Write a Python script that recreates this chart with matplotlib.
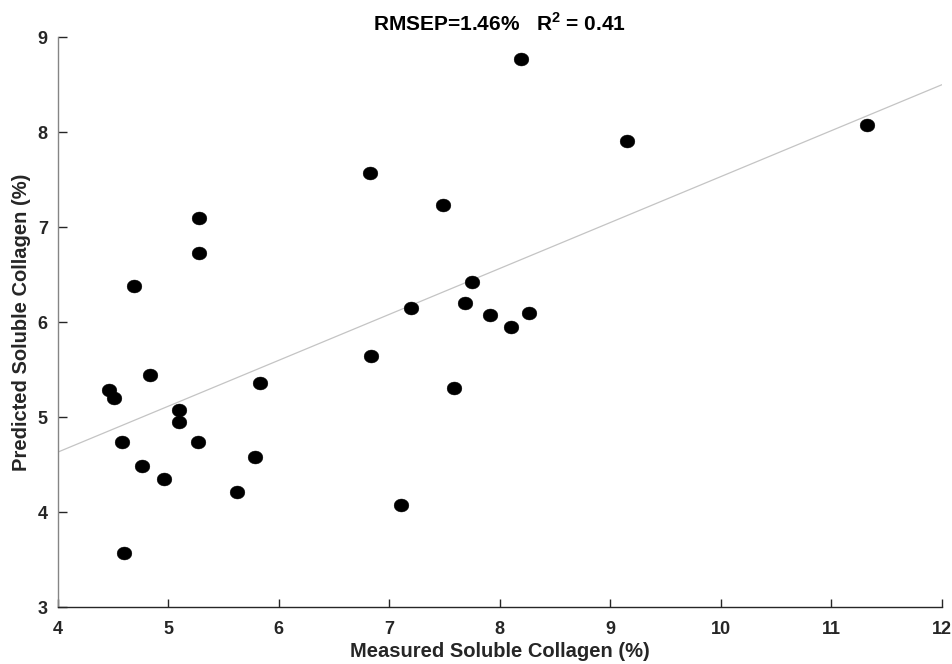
import matplotlib
matplotlib.use("Agg")
import matplotlib.pyplot as plt
from matplotlib.path import Path
import numpy as np

measured = [8.19, 11.32, 9.15, 6.83, 7.49, 5.28, 5.28, 4.69, 7.75, 7.69,
            7.20, 7.91, 8.27, 8.10, 6.84, 4.84, 5.83, 7.59, 4.47, 4.51,
            5.10, 5.10, 4.58, 5.27, 5.79, 4.76, 4.96, 5.62, 7.11, 4.60]
predicted = [8.77, 8.08, 7.91, 7.57, 7.23, 7.10, 6.73, 6.38, 6.42, 6.20,
             6.15, 6.08, 6.10, 5.95, 5.64, 5.44, 5.36, 5.31, 5.29, 5.20,
             5.08, 4.95, 4.74, 4.74, 4.58, 4.49, 4.35, 4.21, 4.07, 3.57]
fit_x = [4, 12]
fit_y = [4.63, 8.50]
xticks = [4, 5, 6, 7, 8, 9, 10, 11, 12]
yticks = [3, 4, 5, 6, 7, 8, 9]

plt.rcParams['font.family'] = ['Liberation Sans', 'DejaVu Sans']
plt.rcParams['font.weight'] = 'bold'
plt.rcParams['mathtext.fontset'] = 'custom'
plt.rcParams['mathtext.rm'] = 'Liberation Sans:bold'
plt.rcParams['mathtext.bf'] = 'Liberation Sans:bold'

# slightly flattened ellipse marker
t = np.linspace(0, 2 * np.pi, 60)
ell = Path(np.column_stack([np.cos(t), 0.88 * np.sin(t)]), closed=True)

fig = plt.figure(figsize=(9.52, 6.64), dpi=100)
ax = fig.add_axes([0.0604, 0.0858, 0.9288, 0.858])

ax.plot(fit_x, fit_y, color='#c4c4c4', lw=0.9, zorder=1)
ax.plot(measured, predicted, linestyle='none', marker=ell, color='black',
        ms=10.6, mew=0.3, mec='black', zorder=2)

ax.set_xlim(4, 12)
ax.set_ylim(3, 9)
ax.set_xticks(xticks)
ax.set_yticks(yticks)
ax.tick_params(direction='in', width=1, labelsize=13, colors='#262626')
ax.tick_params(axis='x', length=5.6, pad=10)
ax.tick_params(axis='y', length=6.7, pad=7)
for lab in ax.get_xticklabels() + ax.get_yticklabels():
    lab.set_fontweight('bold')
for s in ['top', 'right']:
    ax.spines[s].set_visible(False)
ax.spines['left'].set_color('#858585')
ax.spines['bottom'].set_color('#262626')
for s in ['left', 'bottom']:
    ax.spines[s].set_linewidth(1)

ax.set_xlabel('Measured Soluble Collagen (%)', fontsize=14.5, fontweight='bold', color='#262626', labelpad=3)
ax.set_ylabel('Predicted Soluble Collagen (%)', fontsize=14.5, fontweight='bold', color='#262626', labelpad=5)
ax.set_title(r'RMSEP=1.46%   R$^{\mathbf{2}}$ = 0.41', fontsize=15, fontweight='bold', color='black', pad=5)

fig.savefig('out.png', dpi=100)
